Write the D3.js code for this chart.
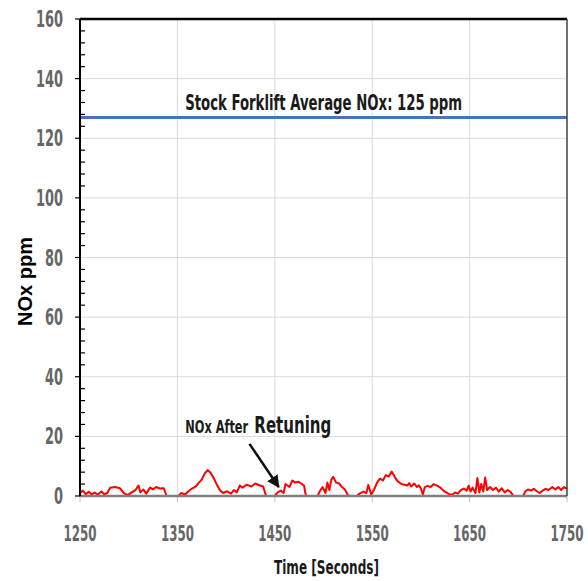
<!DOCTYPE html>
<html>
<head>
<meta charset="utf-8">
<script src="https://cdn.jsdelivr.net/npm/d3@7"></script>
<style>
  body { margin: 0; background: #fff; }
  text { font-family: "Liberation Sans Narrow", "DejaVu Sans Condensed", sans-serif; }
</style>
</head>
<body>
<div id="chart"></div>
<script>
// data
var times = [1250,1253,1256,1259,1262,1265,1268,1272,1275,1278,1281,1286,1291,1295,1299,1303,1307,1310,1312,1315,
  1318,1322,1325,1328,1332,1336,1339,1351,1354,1358,1361,1365,1369,1372,1375,1378,1381,1384,1388,1391,
  1394,1397,1401,1405,1408,1411,1414,1417,1421,1426,1430,1434,1438,1441,1450,1453,1456,1459,1461,1465,
  1468,1471,1474,1477,1480,1482,1494,1496,1499,1502,1504,1506,1508,1510,1513,1516,1519,1522,1525,1527,
  1534,1537,1541,1544,1546,1549,1552,1555,1558,1561,1564,1567,1570,1573,1576,1580,1583,1586,1588,1590,
  1593,1596,1598,1600,1602,1604,1607,1610,1613,1617,1620,1623,1626,1629,1632,1635,1638,1641,1644,1647,
  1649,1651,1653,1656,1658,1660,1662,1664,1666,1668,1671,1674,1677,1680,1683,1686,1689,1692,1695,1705,
  1707,1710,1713,1716,1719,1722,1725,1728,1731,1735,1738,1741,1744,1747,1750];
var noxRetuned = [1.0,1.8,0.6,1.4,0.5,1.2,0.4,1.5,0.6,1.0,2.8,3.0,2.6,1.0,0.3,1.2,2.0,3.5,1.2,2.2,
  0.8,2.8,2.2,3.0,2.5,2.6,0,0,1.0,0.5,1.5,2.5,3.2,4.5,5.5,7.5,8.7,7.8,5.5,3.5,
  1.8,1.0,1.6,0.8,2.0,1.2,3.5,2.8,3.8,3.2,4.2,3.6,3.2,0,0,1.2,1.8,1.0,4.0,3.0,
  5.2,4.5,4.8,4.2,3.5,0,0,1.5,3.0,1.0,4.5,2.0,5.5,6.4,4.5,4.2,3.0,2.2,0.3,0,
  0,0.8,1.5,1.0,3.7,0.5,2.2,4.5,5.8,5.2,7.0,6.5,8.2,6.5,5.0,4.0,3.8,3.5,4.3,3.2,
  4.2,3.0,3.6,2.5,0.5,3.0,3.4,3.0,4.0,3.4,2.8,1.8,1.2,0.6,0.4,1.2,0.8,2.0,2.5,1.8,
  3.5,1.5,2.8,1.0,6.0,1.2,4.0,1.5,6.2,2.0,3.0,2.0,2.8,1.5,2.6,1.2,2.0,1.4,0,0,
  1.5,2.2,1.8,2.4,1.6,1.0,1.8,2.4,2.0,3.0,2.2,3.0,2.0,3.0,2.4];
var stockAverage = 127;
var xTicks = [1250, 1350, 1450, 1550, 1650, 1750];
var yTicks = [0, 20, 40, 60, 80, 100, 120, 140, 160];

var margin = {top: 19, right: 21, bottom: 85, left: 80},
    width = 588 - margin.left - margin.right,
    height = 581 - margin.top - margin.bottom;

var svg = d3.select("#chart")
    .append("svg")
    .attr("width", 588)
    .attr("height", 581)
    .append("g")
    .attr("transform", "translate(" + margin.left + "," + margin.top + ")");

var x = d3.scaleLinear().domain([1250, 1750]).range([0, width]);
var y = d3.scaleLinear().domain([0, 160]).range([height, 0]);

// gridlines
svg.append("g").selectAll("line.h")
    .data(yTicks.slice(1))
    .enter().append("line")
    .attr("x1", 0).attr("x2", width)
    .attr("y1", function(d) { return y(d); })
    .attr("y2", function(d) { return y(d); })
    .attr("stroke", "#d9d9d9").attr("stroke-width", 1);

svg.append("g").selectAll("line.v")
    .data(xTicks.slice(1, -1))
    .enter().append("line")
    .attr("y1", 0).attr("y2", height)
    .attr("x1", function(d) { return x(d); })
    .attr("x2", function(d) { return x(d); })
    .attr("stroke", "#d9d9d9").attr("stroke-width", 1);

// x ticks below the baseline
svg.append("g").selectAll("line")
    .data(xTicks)
    .enter().append("line")
    .attr("x1", function(d) { return x(d); })
    .attr("x2", function(d) { return x(d); })
    .attr("y1", height).attr("y2", height + 6)
    .attr("stroke", "#bfbfbf").attr("stroke-width", 1);

// x tick labels
svg.append("g").selectAll("text")
    .data(xTicks)
    .enter().append("text")
    .attr("x", function(d) { return x(d); })
    .attr("y", height + 45)
    .attr("text-anchor", "middle")
    .attr("font-size", 21)
    .attr("font-weight", "bold")
    .attr("fill", "#666")
    .attr("textLength", 33)
    .attr("lengthAdjust", "spacingAndGlyphs")
    .text(function(d) { return d; });

// y axis with minor ticks
var minor = d3.range(0, 161, 4).filter(function(d) { return d % 20 != 0; });
svg.append("g").selectAll("line")
    .data(minor)
    .enter().append("line")
    .attr("x1", 0).attr("x2", 5)
    .attr("y1", function(d) { return y(d); })
    .attr("y2", function(d) { return y(d); })
    .attr("stroke", "#000").attr("stroke-width", 1.2);

svg.append("g").selectAll("line")
    .data(yTicks)
    .enter().append("line")
    .attr("x1", -5).attr("x2", 0)
    .attr("y1", function(d) { return y(d); })
    .attr("y2", function(d) { return y(d); })
    .attr("stroke", "#000").attr("stroke-width", 1.2);

svg.append("g").selectAll("text")
    .data(yTicks)
    .enter().append("text")
    .attr("x", -17)
    .attr("y", function(d) { return y(d) + 8; })
    .attr("text-anchor", "end")
    .attr("font-size", 23)
    .attr("font-weight", "bold")
    .attr("fill", "#666")
    .attr("textLength", function(d) { return String(d).length * 9; })
    .attr("lengthAdjust", "spacingAndGlyphs")
    .text(function(d) { return d; });

// stock average line
svg.append("line")
    .attr("x1", 0).attr("x2", width)
    .attr("y1", y(stockAverage)).attr("y2", y(stockAverage))
    .attr("stroke", "#4472c4").attr("stroke-width", 3);

// retuned NOx series
var line = d3.line()
    .x(function(d, i) { return x(times[i]); })
    .y(function(d) { return y(d); });

svg.append("path")
    .datum(noxRetuned)
    .attr("d", line)
    .attr("fill", "none")
    .attr("stroke", "#ff0000")
    .attr("stroke-width", 2)
    .attr("stroke-linejoin", "round");

// baseline at zero
svg.append("line")
    .attr("x1", 0).attr("x2", width)
    .attr("y1", height).attr("y2", height)
    .attr("stroke", "#7f7f7f").attr("stroke-width", 2.5);

// frame
svg.append("line")
    .attr("x1", 0).attr("x2", 0).attr("y1", 0).attr("y2", height)
    .attr("stroke", "#000").attr("stroke-width", 2);
svg.append("line")
    .attr("x1", 0).attr("x2", width).attr("y1", 0).attr("y2", 0)
    .attr("stroke", "#000").attr("stroke-width", 2.5);
svg.append("line")
    .attr("x1", width).attr("x2", width).attr("y1", 0).attr("y2", height)
    .attr("stroke", "#404040").attr("stroke-width", 1.5);

// annotations
svg.append("text")
    .attr("x", x(1358)).attr("y", y(stockAverage) - 7)
    .attr("font-size", 21)
    .attr("font-weight", "bold")
    .attr("fill", "#1a1a1a")
    .attr("textLength", 277)
    .attr("lengthAdjust", "spacingAndGlyphs")
    .text("Stock Forklift Average NOx: 125 ppm");

svg.append("text")
    .attr("x", x(1358)).attr("y", y(21))
    .attr("font-size", 17)
    .attr("font-weight", "bold")
    .attr("fill", "#1a1a1a")
    .attr("textLength", 63)
    .attr("lengthAdjust", "spacingAndGlyphs")
    .text("NOx After");
svg.append("text")
    .attr("x", x(1429)).attr("y", y(21))
    .attr("font-size", 23)
    .attr("font-weight", "bold")
    .attr("fill", "#1a1a1a")
    .attr("textLength", 77)
    .attr("lengthAdjust", "spacingAndGlyphs")
    .text("Retuning");

svg.append("defs").append("marker")
    .attr("id", "arrow")
    .attr("viewBox", "0 0 10 10")
    .attr("refX", 9).attr("refY", 5)
    .attr("markerWidth", 5).attr("markerHeight", 5)
    .attr("orient", "auto")
    .append("path")
    .attr("d", "M0,0 L10,5 L0,10 Z")
    .attr("fill", "#111");

svg.append("line")
    .attr("x1", x(1424)).attr("y1", y(17.5))
    .attr("x2", x(1454)).attr("y2", y(3))
    .attr("stroke", "#111").attr("stroke-width", 2.5)
    .attr("marker-end", "url(#arrow)");

// axis titles
svg.append("text")
    .attr("x", width / 2 + 3).attr("y", height + 78)
    .attr("text-anchor", "middle")
    .attr("font-size", 19)
    .attr("font-weight", "bold")
    .attr("fill", "#1a1a1a")
    .attr("textLength", 105)
    .attr("lengthAdjust", "spacingAndGlyphs")
    .text("Time [Seconds]");

svg.append("text")
    .attr("transform", "translate(" + (-48) + "," + (height / 2 + 24) + ") rotate(-90)")
    .attr("text-anchor", "middle")
    .attr("font-size", 20)
    .attr("font-weight", "bold")
    .style("font-family", "Liberation Sans, Arial, sans-serif")
    .attr("fill", "#000")
    .text("NOx ppm");
</script>
</body>
</html>
